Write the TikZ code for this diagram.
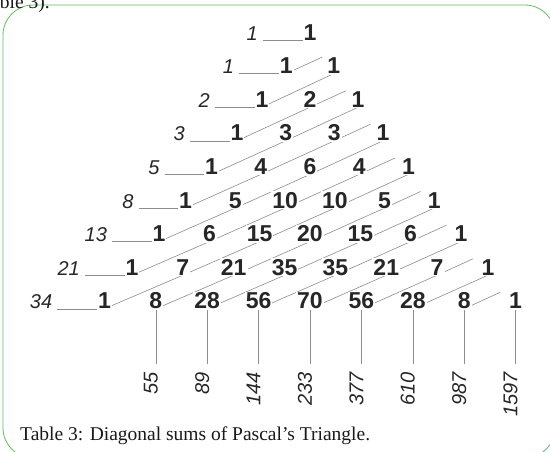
\documentclass[tikz,border=0pt]{standalone}
\usepackage{fontspec}
\setmainfont{Liberation Serif}
\newfontfamily\arialfont{Liberation Sans}
\usetikzlibrary{calc,backgrounds}

\definecolor{framegreen}{RGB}{96,190,96}
\def\pascalrows{0/{1},1/{1,1},2/{1,2,1},3/{1,3,3,1},4/{1,4,6,4,1},5/{1,5,10,10,5,1},%
  6/{1,6,15,20,15,6,1},7/{1,7,21,35,35,21,7,1},8/{1,8,28,56,70,56,28,8,1}}

\begin{document}
\begin{tikzpicture}[
  x=1pt, y=-1pt,
  entry/.style={fill=white, inner sep=1pt, anchor=base, text=black!85,
    font=\arialfont\bfseries\fontsize{23}{23}\selectfont},
  fib/.style={inner sep=0pt, text=black!85, font=\arialfont\itshape\fontsize{20}{20}\selectfont},
  ln/.style={draw=black!45, line width=0.6pt},
  caption/.style={inner sep=0pt, anchor=base west, text=black!90, font=\fontsize{19.5}{19.5}\selectfont},
]
\useasboundingbox (0,0) rectangle (550,451);

% the triangle
\foreach \n/\vals in \pascalrows {
  \foreach \v [count=\k from 0] in \vals {
    \pgfmathsetmacro\xx{310+(\k-\n/2)*(47+0.55*\n)}
    \node[entry] (p-\n-\k) at (\xx,{40+33.6*\n}) {\v};
  }
}

% fibonacci numbers on the left
\foreach \f [count=\n from 0] in {1,1,2,3,5,8,13,21,34}
  \node[fib, anchor=base east] (f-\n) at ([xshift=-52pt]p-\n-0.base) {\f};

% sums below the last row
\foreach \s [count=\k] in {55,89,144,233,377,610,987,1597} {
  \pgfmathsetmacro\xx{310+(\k-4)*51.4}
  \node[fib, rotate=90, anchor=east] (s-\k) at (\xx-5,372) {\s};
}

\node[caption] (cap) at (20,440) {Table 3: Diagonal sums of Pascal’s Triangle.};
\node[caption, anchor=base east] (prev) at (50,8) {ble 3).};

\begin{scope}[on background layer]
  \draw[framegreen, line width=0.8pt, rounded corners=30pt] (3,5) rectangle (555,458);
  % diagonals
  \foreach \n in {2,...,8} {
    \pgfmathtruncatemacro\last{\n-2}
    \pgfmathtruncatemacro\pn{\n-1}
    \foreach \k in {0,...,\last} {
      \pgfmathtruncatemacro\pk{\k+1}
      \draw[ln] (p-\n-\k.base) -- (p-\pn-\pk.base);
    }
  }
  \foreach \n in {1,...,8} {
    \pgfmathtruncatemacro\k{\n-1}
    \draw[ln] (p-\n-\k.base) -- ++(36,-16.5);
  }
  \foreach \n in {0,...,8}
    \draw[ln] ([xshift=5pt]f-\n.base east) -- (p-\n-0.base);
  \foreach \k in {1,...,8}
    \draw[ln] (p-8-\k.base) -- ([yshift=8pt]p-8-\k.base |- s-\k.east);
\end{scope}
\end{tikzpicture}
\end{document}
